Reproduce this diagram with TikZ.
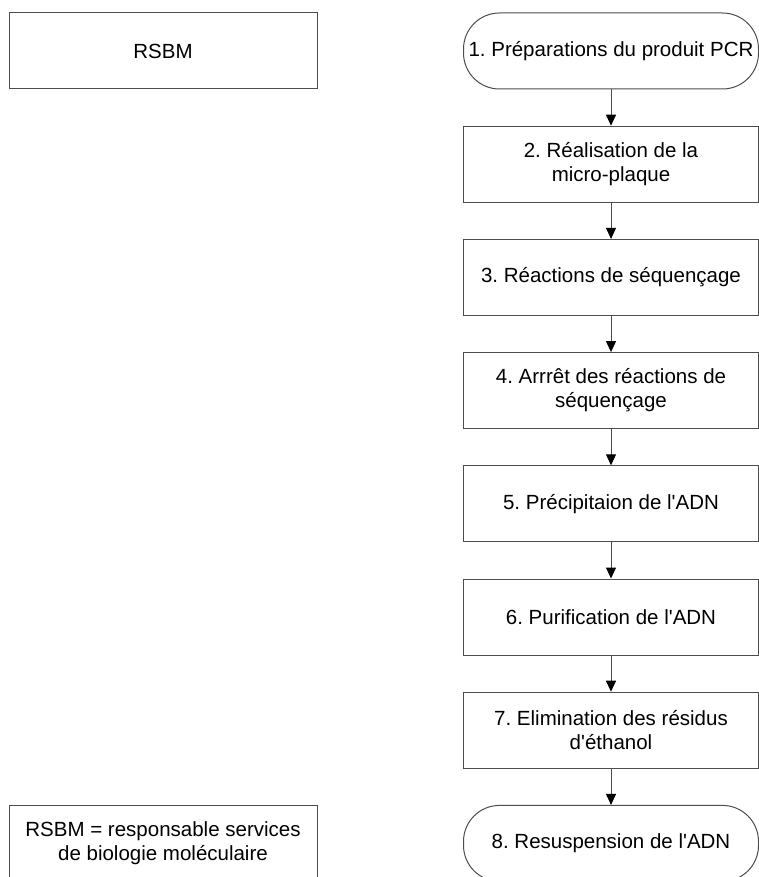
\documentclass[tikz,border=0pt]{standalone}
\usepackage{fontspec}
\setmainfont{Liberation Sans}
\usetikzlibrary{arrows.meta}
\frenchspacing
\tikzset{
  procbox/.style={draw=black!70, line width=1pt, minimum width=295pt, minimum height=76pt,
    inner sep=0pt, align=center, font=\fontsize{20.5}{24}\selectfont},
  termbox/.style={procbox, rounded corners=36pt},
  notebox/.style={procbox, minimum width=308pt},
  flowarrow/.style={draw=black!70, line width=1pt, -{Triangle[width=10pt,length=11pt,color=black]}},
}

\begin{document}
\begin{tikzpicture}[x=1pt,y=1pt]
    % Frame of the picture
    \clip (0,0) rectangle (759,-877);

    % Left column
    \node[notebox] (rsbm) at (163,-51) {RSBM};
    \node[notebox] (legend) at (163,-843.4) {RSBM = responsable services\\de biologie mol\'eculaire};

    % Steps of the procedure
    \node[termbox] (s1) at (611,-51) {1. Pr\'eparations du produit PCR};
    \node[procbox] (s2) at (611,-164.2) {2. R\'ealisation de la\\micro-plaque};
    \node[procbox] (s3) at (611,-277.4) {3. R\'eactions de s\'equen\c{c}age};
    \node[procbox] (s4) at (611,-390.6) {4. Arrr\^et des r\'eactions de\\s\'equen\c{c}age};
    \node[procbox] (s5) at (611,-503.8) {5. Pr\'ecipitaion de l\textquotesingle ADN};
    \node[procbox] (s6) at (611,-617) {6. Purification de l\textquotesingle ADN};
    \node[procbox] (s7) at (611,-730.2) {7. Elimination des r\'esidus\\d\textquotesingle\'ethanol};
    \node[termbox] (s8) at (611,-843.4) {8. Resuspension de l\textquotesingle ADN};

    % Arrows between the steps
    \foreach \i [evaluate=\i as \j using int(\i+1)] in {1,...,7}
      \draw[flowarrow] (s\i) -- (s\j);
\end{tikzpicture}
\end{document}
